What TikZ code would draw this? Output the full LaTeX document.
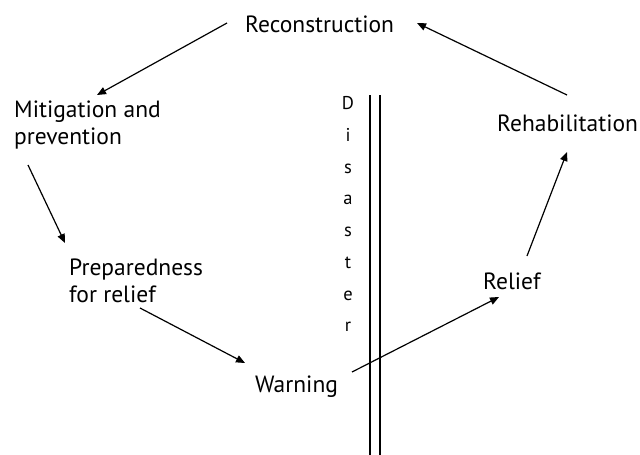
\documentclass[tikz,border=0pt]{standalone}
\usepackage{fontspec}
\setmainfont{PT Sans}
\usetikzlibrary{arrows.meta}
\begin{document}
\begin{tikzpicture}[x=1pt,y=-1pt,
  label/.style={inner sep=0pt,font=\fontsize{23.5}{26.5}\selectfont},
  flow/.style={line width=1.2pt,-{Triangle[length=9pt,width=7.5pt]}},
  bar/.style={line width=1.8pt}]
\useasboundingbox (0,0) rectangle (640,455);

% stages of the cycle
\node[label,anchor=base west] (rec) at (245,32) {Reconstruction};
\node[label,anchor=north west,align=left] (mit) at (14,101) {Mitigation and\\prevention};
\node[label,anchor=north west,align=left] (prep) at (69,259) {Preparedness\\for relief};
\node[label,anchor=base west] (warn) at (255,392) {Warning};
\node[label,anchor=base west] (relief) at (483,289) {Relief};
\node[label,anchor=base west] (rehab) at (497,131) {Rehabilitation};

% the disaster divide
\node[inner sep=0pt,anchor=north,align=center,font=\fontsize{18.5}{31.7}\selectfont]
  (dis) at (348,96.5) {D\\i\\s\\a\\s\\t\\e\\r};
\coordinate (barAtop) at (370,95);
\coordinate (barAbot) at (370,455);
\coordinate (barBtop) at (380,95);
\coordinate (barBbot) at (380,455);
\draw[bar] (barAtop) -- (barAbot);
\draw[bar] (barBtop) -- (barBbot);

% arrows around the cycle
\draw[flow] ([shift={(-18,-9)}]rec.base west) -- ([shift={(83,-6)}]mit.north west);
\draw[flow] ([shift={(14,64)}]mit.north west) -- ([shift={(-4,-16)}]prep.north west);
\draw[flow] ([shift={(71,49)}]prep.north west) -- ([shift={(-10,-29)}]warn.base west);
\draw[flow] ([shift={(97,-20)}]warn.base west) -- ([shift={(16,8)}]relief.base west);
\draw[flow] ([shift={(44,-33)}]relief.base west) -- ([shift={(70,21)}]rehab.base west);
\draw[flow] ([shift={(70,-36)}]rehab.base west) -- ([shift={(172,-9)}]rec.base west);
\end{tikzpicture}
\end{document}
